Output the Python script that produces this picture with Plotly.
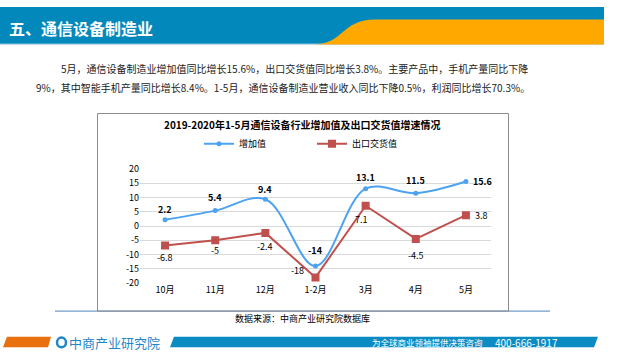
import plotly.graph_objects as go

categories = ["10月", "11月", "12月", "1-2月", "3月", "4月", "5月"]
added_value = [2.2, 5.4, 9.4, -14, 13.1, 11.5, 15.6]
export_value = [-6.8, -5, -2.4, -18, 7.1, -4.5, 3.8]
y_ticks = [20, 15, 10, 5, 0, -5, -10, -15, -20]
series_names = ["增加值", "出口交货值"]

W, H = 640, 360
FONT = "Noto Sans CJK SC"
BLUE = "#4DA3F2"
RED = "#C0504D"


def px(x):
    return x / W


def py(y):
    return 1 - y / H


fig = go.Figure()

fig.add_trace(go.Scatter(
    x=categories, y=added_value, name=series_names[0], mode="lines+markers",
    line=dict(color=BLUE, width=2, shape="spline", smoothing=1.0),
    marker=dict(color=BLUE, size=5, symbol="circle"),
))
fig.add_trace(go.Scatter(
    x=categories, y=export_value, name=series_names[1], mode="lines+markers",
    line=dict(color=RED, width=2),
    marker=dict(color=RED, size=8, symbol="square"),
))

# data labels (offsets in pixels)
blue_off = [(0, 10), (0, 13), (0, 10), (0, 16), (0, 11), (0, 13), (17, 0)]
red_off = [(0, -12), (0, -10), (0, -14), (-18, 7), (-4, -14), (0, -17), (16, 0)]
annotations = []
for c, v, (dx, dy) in zip(categories, added_value, blue_off):
    annotations.append(dict(x=c, y=v, xref="x", yref="y", text=f"<b>{v:g}</b>",
                            showarrow=False, xshift=dx, yshift=dy,
                            font=dict(family=FONT, size=9, color="#000000")))
for c, v, (dx, dy) in zip(categories, export_value, red_off):
    annotations.append(dict(x=c, y=v, xref="x", yref="y", text=f"{v:g}",
                            showarrow=False, xshift=dx, yshift=dy,
                            font=dict(family=FONT, size=9, color="#000000")))

# page texts
annotations.append(dict(x=px(7), y=py(22), xref="paper", yref="paper", xanchor="left",
                        yanchor="middle", showarrow=False, text="<b>五、通信设备制造业</b>",
                        font=dict(family=FONT, size=16, color="#FFFFFF")))
annotations.append(dict(x=px(59), y=py(64), xref="paper", yref="paper", xanchor="left",
                        yanchor="middle", showarrow=False,
                        text="5月，通信设备制造业增加值同比增长15.6%，出口交货值同比增长3.8%。主要产品中，手机产量同比下降",
                        font=dict(family=FONT, size=10, color="#222222")))
annotations.append(dict(x=px(34), y=py(83), xref="paper", yref="paper", xanchor="left",
                        yanchor="middle", showarrow=False,
                        text="9%，其中智能手机产量同比增长8.4%。1-5月，通信设备制造业营业收入同比下降0.5%，利润同比增长70.3%。",
                        font=dict(family=FONT, size=10, color="#222222")))
annotations.append(dict(x=px(302), y=py(122), xref="paper", yref="paper", xanchor="center",
                        yanchor="middle", showarrow=False,
                        text="<b>2019-2020年1-5月通信设备行业增加值及出口交货值增速情况</b>",
                        font=dict(family=FONT, size=10, color="#000000")))
annotations.append(dict(x=px(302), y=py(323), xref="paper", yref="paper", xanchor="center",
                        yanchor="middle", showarrow=False,
                        text="数据来源：中商产业研究院数据库",
                        font=dict(family=FONT, size=9, color="#000000")))
annotations.append(dict(x=px(67), y=py(348), xref="paper", yref="paper", xanchor="left",
                        yanchor="middle", showarrow=False,
                        text="中商产业研究院",
                        font=dict(family=FONT, size=13, color="#1F86C8")))
annotations.append(dict(x=px(370), y=py(348), xref="paper", yref="paper", xanchor="left",
                        yanchor="middle", showarrow=False,
                        text="为全球商业领袖提供决策咨询",
                        font=dict(family=FONT, size=8.5, color="#FFFFFF")))
annotations.append(dict(x=px(493), y=py(348), xref="paper", yref="paper", xanchor="left",
                        yanchor="middle", showarrow=False,
                        text="400-666-1917",
                        font=dict(family=FONT, size=10, color="#FFFFFF")))

shapes = []
# header band
shapes.append(dict(type="rect", xref="paper", yref="paper", x0=px(0), x1=px(604),
                   y0=py(38), y1=py(0), fillcolor="#0388BB", line=dict(width=0), layer="below"))
shapes.append(dict(type="line", xref="paper", yref="paper", x0=px(0), x1=px(604),
                   y0=py(39), y1=py(39), line=dict(color="#BFD9E8", width=1), layer="below"))
orange_path = (f"M {px(312)},{py(39)} C {px(345)},{py(39)} {px(340)},{py(13)} {px(376)},{py(13)} "
               f"L {px(604)},{py(13)} L {px(604)},{py(39)} Z")
shapes.append(dict(type="path", xref="paper", yref="paper", path=orange_path,
                   fillcolor="#FEA800", line=dict(width=0), layer="below"))
# chart box
shapes.append(dict(type="line", xref="paper", yref="paper", x0=px(55), x1=px(550),
                   y0=py(315.5), y1=py(315.5), line=dict(color="#4F81BD", width=1), layer="below"))
shapes.append(dict(type="rect", xref="paper", yref="paper", x0=px(97.5), x1=px(508.5),
                   y0=py(315.5), y1=py(110.5), line=dict(color="#8C8C8C", width=1), layer="below"))
# footer
foot_or = (f"M {px(3)},{py(353)} L {px(7)},{py(342)} L {px(51)},{py(342)} L {px(48)},{py(353)} Z")
shapes.append(dict(type="path", xref="paper", yref="paper", path=foot_or,
                   fillcolor="#E8700E", line=dict(width=0), layer="below"))
foot_bl = (f"M {px(170)},{py(353)} L {px(174)},{py(342)} L {px(598)},{py(342)} L {px(594)},{py(353)} Z")
shapes.append(dict(type="path", xref="paper", yref="paper", path=foot_bl,
                   fillcolor="#0A8BC2", line=dict(width=0), layer="below"))
# logo icon
shapes.append(dict(type="circle", xref="paper", yref="paper", x0=px(57), x1=px(66),
                   y0=py(353), y1=py(343), line=dict(color="#1F86C8", width=2.5), layer="below"))

fig.update_layout(
    width=W, height=H, margin=dict(l=0, r=0, t=0, b=0),
    paper_bgcolor="#FFFFFF", plot_bgcolor="rgba(0,0,0,0)",
    font=dict(family=FONT, size=9, color="#000000"),
    showlegend=True,
    legend=dict(orientation="h", x=px(199), y=py(142), xanchor="left", yanchor="middle",
                font=dict(family=FONT, size=9, color="#000000"),
                bgcolor="rgba(0,0,0,0)", itemwidth=30, entrywidth=68, entrywidthmode="pixels",
                tracegroupgap=0),
    xaxis=dict(domain=[px(140), px(491)], range=[-0.5, 6.5], showgrid=False, zeroline=False,
               showline=False, ticks="", tickfont=dict(family=FONT, size=9, color="#000000"),
               fixedrange=True),
    yaxis=dict(domain=[py(286.5), py(168)], range=[-20, 20], tickvals=y_ticks,
               ticktext=[str(v) for v in y_ticks], showgrid=True, gridcolor="#D9D9D9",
               gridwidth=1, zeroline=False, showline=False, ticks="",
               tickfont=dict(family=FONT, size=9, color="#000000"), fixedrange=True),
    annotations=annotations, shapes=shapes,
)

fig.write_html("out.html", config={"displayModeBar": False},
               post_script="document.body.style.margin='0';document.body.style.padding='0';")
